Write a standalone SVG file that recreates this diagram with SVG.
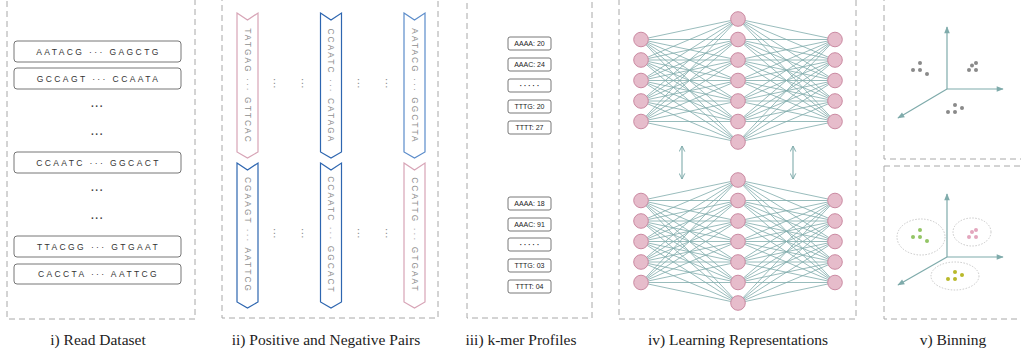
<svg xmlns="http://www.w3.org/2000/svg" width="1021" height="356" viewBox="0 0 1021 356">
<style>
.panel{fill:none;stroke:#a8a8a8;stroke-width:1;stroke-dasharray:6 4}
.read{fill:#fff;stroke:#666;stroke-width:0.9}
.readt{font-family:"Liberation Sans",Arial,sans-serif;font-size:8.5px;fill:#333;letter-spacing:2.4px;text-anchor:middle}
.dots{font-family:"Liberation Sans",Arial,sans-serif;font-size:10px;font-weight:bold;fill:#444;letter-spacing:1px;text-anchor:middle}
.chev{fill:#fff;stroke-width:1.2}
.pink{stroke:#d7a4b6}
.blue{stroke:#2e66b0}
.lblue{stroke:#5b8cca}
.chevt{font-family:"Liberation Sans",Arial,sans-serif;font-size:8.3px;fill:#8e8e8e;letter-spacing:2.1px;text-anchor:middle}
.vdots{font-family:"Liberation Sans",Arial,sans-serif;font-size:8px;font-weight:bold;fill:#888;letter-spacing:1px;text-anchor:middle}
.kbox{fill:#fff;stroke:#555;stroke-width:0.8}
.kt{font-family:"Liberation Sans",Arial,sans-serif;font-size:7px;fill:#222;text-anchor:middle}
.ktd{font-family:"Liberation Sans",Arial,sans-serif;font-size:7px;font-weight:bold;fill:#222;text-anchor:middle}
.edge{fill:none;stroke:#7fabab;stroke-width:0.8}
.node{fill:#e6bccb;stroke:#cb8aa2;stroke-width:1}
.arr{fill:none;stroke:#7fabab;stroke-width:1.1}
.axis{fill:none;stroke:#7fabab;stroke-width:1.2}
.gd{fill:#8a8a8a}
.gr{fill:#93c565}
.pk{fill:#e3a6bd}
.yl{fill:#b9b92a}
.ell{fill:none;stroke:#bbb;stroke-width:0.8;stroke-dasharray:1.5 1.5}
.cap{font-family:"Liberation Serif","Times New Roman",serif;font-size:15.5px;fill:#222;text-anchor:middle}
</style>
<defs>
<marker id="vh" viewBox="0 0 10 10" refX="9" refY="5" markerWidth="7" markerHeight="7" orient="auto-start-reverse" markerUnits="userSpaceOnUse">
<path d="M1 1L9 5L1 9" fill="none" stroke="#7fabab" stroke-width="1.4"/>
</marker>
<marker id="th" viewBox="0 0 10 10" refX="9" refY="5" markerWidth="8" markerHeight="7" orient="auto" markerUnits="userSpaceOnUse">
<path d="M0 1L10 5L0 9Z" fill="#7fabab"/>
</marker>
</defs>

<!-- Panel borders -->
<g id="panels">
<rect class="panel" x="7" y="-3" width="188" height="322"/>
<rect class="panel" x="222" y="-3" width="216" height="321"/>
<rect class="panel" x="467" y="-3" width="125" height="321"/>
<rect class="panel" x="619" y="-3" width="237" height="322"/>
<rect class="panel" x="884" y="-3" width="145" height="162"/>
<rect class="panel" x="884" y="166" width="145" height="153"/>
</g>

<!-- Panel i: reads -->
<g id="reads">
<g id="read1"><rect class="read" x="14" y="41" width="167" height="21" rx="3"/><text class="readt" x="98.5" y="54.7">AATACG ··· GAGCTG</text></g>
<g id="read2"><rect class="read" x="14" y="68" width="167" height="21" rx="3"/><text class="readt" x="98.5" y="81.7">GCCAGT ··· CCAATA</text></g>
<text class="dots" x="97.5" y="110">···</text>
<text class="dots" x="97.5" y="138">···</text>
<g id="read3"><rect class="read" x="14" y="152" width="167" height="21" rx="3"/><text class="readt" x="98.5" y="165.7">CCAATC ··· GGCACT</text></g>
<text class="dots" x="97.5" y="194">···</text>
<text class="dots" x="97.5" y="222">···</text>
<g id="read4"><rect class="read" x="14" y="236" width="167" height="21" rx="3"/><text class="readt" x="98.5" y="249.7">TTACGG ··· GTGAAT</text></g>
<g id="read5"><rect class="read" x="14" y="264" width="167" height="20" rx="3"/><text class="readt" x="98.5" y="277.2">CACCTA ··· AATTCG</text></g>
</g>

<!-- Panel ii: pairs -->
<g id="pairs">
<g id="p1a"><path class="chev pink" d="M237 13L247.5 20L258 13V152L247.5 158L237 152Z"/><text class="chevt" transform="translate(244.5,86) rotate(90)">TATGAG ··· GTTCAC</text></g>
<g id="p2a"><path class="chev blue" d="M320.5 13L331 20L341.5 13V152L331 158L320.5 152Z"/><text class="chevt" transform="translate(328,86) rotate(90)">CCAATC ··· CATAGA</text></g>
<g id="p3a"><path class="chev lblue" d="M404 13L414.5 20L425 13V152L414.5 158L404 152Z"/><text class="chevt" transform="translate(411.5,86) rotate(90)">AATACG ··· GGCTTA</text></g>
<g id="p1b"><path class="chev blue" d="M237 163L247.5 170L258 163V302L247.5 308L237 302Z"/><text class="chevt" transform="translate(244.5,235) rotate(90)">CGAAGT ··· AATTCG</text></g>
<g id="p2b"><path class="chev blue" d="M320.5 163L331 170L341.5 163V302L331 308L320.5 302Z"/><text class="chevt" transform="translate(328,235) rotate(90)">CCAATC ··· GGCACT</text></g>
<g id="p3b"><path class="chev pink" d="M404 163L414.5 170L425 163V302L414.5 308L404 302Z"/><text class="chevt" transform="translate(411.5,235) rotate(90)">CCATTG ··· GTGAAT</text></g>
<text class="vdots" transform="translate(272,84) rotate(90)">···</text>
<text class="vdots" transform="translate(300,84) rotate(90)">···</text>
<text class="vdots" transform="translate(356,84) rotate(90)">···</text>
<text class="vdots" transform="translate(384,84) rotate(90)">···</text>
<text class="vdots" transform="translate(272,234) rotate(90)">···</text>
<text class="vdots" transform="translate(300,234) rotate(90)">···</text>
<text class="vdots" transform="translate(356,234) rotate(90)">···</text>
<text class="vdots" transform="translate(384,234) rotate(90)">···</text>
</g>

<!-- Panel iii: k-mer profiles -->
<g id="kmers">
<g id="k1"><rect class="kbox" x="508" y="37" width="43" height="13" rx="2"/><text class="kt" x="529.5" y="46.2">AAAA: 20</text></g>
<g id="k2"><rect class="kbox" x="508" y="58" width="43" height="13" rx="2"/><text class="kt" x="529.5" y="67.2">AAAC: 24</text></g>
<g id="k3"><rect class="kbox" x="508" y="79" width="43" height="13" rx="2"/><text class="ktd" x="529.5" y="88">· · · · ·</text></g>
<g id="k4"><rect class="kbox" x="508" y="100" width="43" height="13" rx="2"/><text class="kt" x="529.5" y="109.2">TTTG: 20</text></g>
<g id="k5"><rect class="kbox" x="508" y="121" width="43" height="13" rx="2"/><text class="kt" x="529.5" y="130.2">TTTT: 27</text></g>
<g id="k6"><rect class="kbox" x="508" y="197" width="43" height="13" rx="2"/><text class="kt" x="529.5" y="206.2">AAAA: 18</text></g>
<g id="k7"><rect class="kbox" x="508" y="218" width="43" height="13" rx="2"/><text class="kt" x="529.5" y="227.2">AAAC: 91</text></g>
<g id="k8"><rect class="kbox" x="508" y="238" width="43" height="13" rx="2"/><text class="ktd" x="529.5" y="247">· · · · ·</text></g>
<g id="k9"><rect class="kbox" x="508" y="259" width="43" height="13" rx="2"/><text class="kt" x="529.5" y="268.2">TTTG: 03</text></g>
<g id="k10"><rect class="kbox" x="508" y="280" width="43" height="13" rx="2"/><text class="kt" x="529.5" y="289.2">TTTT: 04</text></g>
</g>

<!-- Panel iv: connectors -->
<g id="connectors">
<path class="edge" d="M641 39.5L738 19M641 39.5L738 39.5M641 39.5L738 60M641 39.5L738 80.5M641 39.5L738 101M641 39.5L738 121.5M641 39.5L738 142"/>
<path class="edge" d="M641 60L738 19M641 60L738 39.5M641 60L738 60M641 60L738 80.5M641 60L738 101M641 60L738 121.5M641 60L738 142"/>
<path class="edge" d="M641 80.5L738 19M641 80.5L738 39.5M641 80.5L738 60M641 80.5L738 80.5M641 80.5L738 101M641 80.5L738 121.5M641 80.5L738 142"/>
<path class="edge" d="M641 101L738 19M641 101L738 39.5M641 101L738 60M641 101L738 80.5M641 101L738 101M641 101L738 121.5M641 101L738 142"/>
<path class="edge" d="M641 121.5L738 19M641 121.5L738 39.5M641 121.5L738 60M641 121.5L738 80.5M641 121.5L738 101M641 121.5L738 121.5M641 121.5L738 142"/>
<path class="edge" d="M835 39.5L738 19M835 39.5L738 39.5M835 39.5L738 60M835 39.5L738 80.5M835 39.5L738 101M835 39.5L738 121.5M835 39.5L738 142"/>
<path class="edge" d="M835 60L738 19M835 60L738 39.5M835 60L738 60M835 60L738 80.5M835 60L738 101M835 60L738 121.5M835 60L738 142"/>
<path class="edge" d="M835 80.5L738 19M835 80.5L738 39.5M835 80.5L738 60M835 80.5L738 80.5M835 80.5L738 101M835 80.5L738 121.5M835 80.5L738 142"/>
<path class="edge" d="M835 101L738 19M835 101L738 39.5M835 101L738 60M835 101L738 80.5M835 101L738 101M835 101L738 121.5M835 101L738 142"/>
<path class="edge" d="M835 121.5L738 19M835 121.5L738 39.5M835 121.5L738 60M835 121.5L738 80.5M835 121.5L738 101M835 121.5L738 121.5M835 121.5L738 142"/>
<path class="edge" d="M641 200.5L738 180M641 200.5L738 200.5M641 200.5L738 221M641 200.5L738 241.5M641 200.5L738 262M641 200.5L738 282.5M641 200.5L738 303"/>
<path class="edge" d="M641 221L738 180M641 221L738 200.5M641 221L738 221M641 221L738 241.5M641 221L738 262M641 221L738 282.5M641 221L738 303"/>
<path class="edge" d="M641 241.5L738 180M641 241.5L738 200.5M641 241.5L738 221M641 241.5L738 241.5M641 241.5L738 262M641 241.5L738 282.5M641 241.5L738 303"/>
<path class="edge" d="M641 262L738 180M641 262L738 200.5M641 262L738 221M641 262L738 241.5M641 262L738 262M641 262L738 282.5M641 262L738 303"/>
<path class="edge" d="M641 282.5L738 180M641 282.5L738 200.5M641 282.5L738 221M641 282.5L738 241.5M641 282.5L738 262M641 282.5L738 282.5M641 282.5L738 303"/>
<path class="edge" d="M835 200.5L738 180M835 200.5L738 200.5M835 200.5L738 221M835 200.5L738 241.5M835 200.5L738 262M835 200.5L738 282.5M835 200.5L738 303"/>
<path class="edge" d="M835 221L738 180M835 221L738 200.5M835 221L738 221M835 221L738 241.5M835 221L738 262M835 221L738 282.5M835 221L738 303"/>
<path class="edge" d="M835 241.5L738 180M835 241.5L738 200.5M835 241.5L738 221M835 241.5L738 241.5M835 241.5L738 262M835 241.5L738 282.5M835 241.5L738 303"/>
<path class="edge" d="M835 262L738 180M835 262L738 200.5M835 262L738 221M835 262L738 241.5M835 262L738 262M835 262L738 282.5M835 262L738 303"/>
<path class="edge" d="M835 282.5L738 180M835 282.5L738 200.5M835 282.5L738 221M835 282.5L738 241.5M835 282.5L738 262M835 282.5L738 282.5M835 282.5L738 303"/>
<line class="arr" x1="682" y1="146" x2="682" y2="179" marker-start="url(#vh)" marker-end="url(#vh)"/>
<line class="arr" x1="793" y1="146" x2="793" y2="179" marker-start="url(#vh)" marker-end="url(#vh)"/>
</g>

<!-- Panel iv: nodes -->
<g id="net-top">
<circle class="node" cx="641" cy="39.5" r="7.3"/><circle class="node" cx="641" cy="60" r="7.3"/><circle class="node" cx="641" cy="80.5" r="7.3"/><circle class="node" cx="641" cy="101" r="7.3"/><circle class="node" cx="641" cy="121.5" r="7.3"/>
<circle class="node" cx="738" cy="19" r="7.3"/><circle class="node" cx="738" cy="39.5" r="7.3"/><circle class="node" cx="738" cy="60" r="7.3"/><circle class="node" cx="738" cy="80.5" r="7.3"/><circle class="node" cx="738" cy="101" r="7.3"/><circle class="node" cx="738" cy="121.5" r="7.3"/><circle class="node" cx="738" cy="142" r="7.3"/>
<circle class="node" cx="835" cy="39.5" r="7.3"/><circle class="node" cx="835" cy="60" r="7.3"/><circle class="node" cx="835" cy="80.5" r="7.3"/><circle class="node" cx="835" cy="101" r="7.3"/><circle class="node" cx="835" cy="121.5" r="7.3"/>
</g>
<g id="net-bottom">
<circle class="node" cx="641" cy="200.5" r="7.3"/><circle class="node" cx="641" cy="221" r="7.3"/><circle class="node" cx="641" cy="241.5" r="7.3"/><circle class="node" cx="641" cy="262" r="7.3"/><circle class="node" cx="641" cy="282.5" r="7.3"/>
<circle class="node" cx="738" cy="180" r="7.3"/><circle class="node" cx="738" cy="200.5" r="7.3"/><circle class="node" cx="738" cy="221" r="7.3"/><circle class="node" cx="738" cy="241.5" r="7.3"/><circle class="node" cx="738" cy="262" r="7.3"/><circle class="node" cx="738" cy="282.5" r="7.3"/><circle class="node" cx="738" cy="303" r="7.3"/>
<circle class="node" cx="835" cy="200.5" r="7.3"/><circle class="node" cx="835" cy="221" r="7.3"/><circle class="node" cx="835" cy="241.5" r="7.3"/><circle class="node" cx="835" cy="262" r="7.3"/><circle class="node" cx="835" cy="282.5" r="7.3"/>
</g>

<!-- Panel v: embedding space -->
<g id="embed-top">
<line class="axis" x1="947" y1="89" x2="947" y2="27" marker-end="url(#th)"/>
<line class="axis" x1="947" y1="89" x2="1003" y2="89" marker-end="url(#th)"/>
<line class="axis" x1="947" y1="89" x2="898" y2="118" marker-end="url(#th)"/>
<circle class="gd" cx="920" cy="63" r="2"/><circle class="gd" cx="913" cy="70" r="2"/><circle class="gd" cx="920" cy="70" r="2"/><circle class="gd" cx="927" cy="74" r="2"/>
<circle class="gd" cx="976" cy="63" r="2"/><circle class="gd" cx="972" cy="65.5" r="2"/><circle class="gd" cx="969" cy="70" r="2"/><circle class="gd" cx="976" cy="70" r="2"/>
<circle class="gd" cx="955" cy="105" r="2"/><circle class="gd" cx="962" cy="108" r="2"/><circle class="gd" cx="948" cy="112" r="2"/><circle class="gd" cx="955" cy="112" r="2"/>
</g>
<g id="embed-bottom">
<line class="axis" x1="947" y1="257" x2="947" y2="194" marker-end="url(#th)"/>
<line class="axis" x1="947" y1="257" x2="1003" y2="257" marker-end="url(#th)"/>
<line class="axis" x1="947" y1="257" x2="898" y2="285" marker-end="url(#th)"/>
<ellipse class="ell" cx="921" cy="237" rx="24" ry="18"/>
<ellipse class="ell" cx="972" cy="232" rx="19" ry="14"/>
<ellipse class="ell" cx="955" cy="276" rx="24" ry="14"/>
<circle class="gr" cx="920" cy="230" r="2"/><circle class="gr" cx="913" cy="237" r="2"/><circle class="gr" cx="920" cy="237" r="2"/><circle class="gr" cx="927" cy="241" r="2"/>
<circle class="pk" cx="976" cy="230" r="2"/><circle class="pk" cx="972" cy="232" r="2"/><circle class="pk" cx="969" cy="237" r="2"/><circle class="pk" cx="976" cy="237" r="2"/>
<circle class="yl" cx="955" cy="272" r="2"/><circle class="yl" cx="962" cy="275" r="2"/><circle class="yl" cx="948" cy="279" r="2"/><circle class="yl" cx="955" cy="279" r="2"/>
</g>

<!-- Captions -->
<g id="captions">
<text class="cap" x="98" y="345">i) Read Dataset</text>
<text class="cap" x="326" y="345">ii) Positive and Negative Pairs</text>
<text class="cap" x="521" y="345">iii) k-mer Profiles</text>
<text class="cap" x="738" y="345">iv) Learning Representations</text>
<text class="cap" x="953" y="345">v) Binning</text>
</g>
</svg>
